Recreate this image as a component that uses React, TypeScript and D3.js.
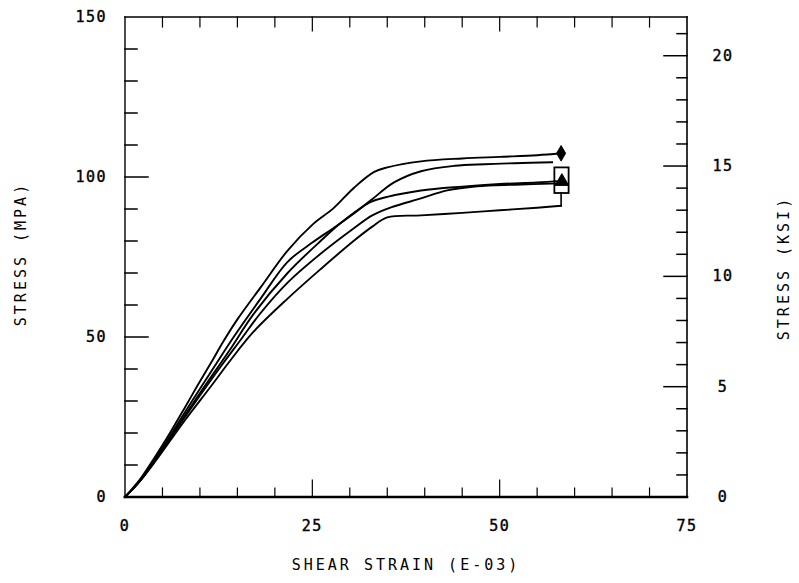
import React from 'react';
import * as d3 from 'd3';

// ---- data (strain in 1e-3, stress in MPa) ----
const curveAStrain = [0, 2, 4, 6, 8, 9.6, 11.5, 13.1, 15, 18.1, 21.7, 25.2, 27.8, 30.5, 33.2, 35, 39.5, 45, 50, 55, 58.2];
const curveAStress = [0, 5.5, 12.5, 20, 28, 34.5, 42, 48.5, 55.5, 65.5, 77, 85.5, 90.2, 96.5, 101.5, 103, 104.9, 105.8, 106.3, 106.8, 107.4];

const curveBStrain = [0, 2, 4, 6, 8, 10.2, 12, 14.5, 18.1, 21.7, 25, 27.8, 30.5, 32.8, 35.9, 39.5, 44, 48, 52, 57];
const curveBStress = [0, 5, 12, 19, 26.5, 34.5, 41, 50, 62, 73.5, 79.5, 84, 88.5, 92.7, 98.3, 101.8, 103.5, 104, 104.3, 104.6];

const curveCStrain = [0, 2, 4, 6, 8, 10.6, 14, 17.1, 21.7, 26.1, 29, 32.8, 35, 39.5, 45, 50, 55, 58.2];
const curveCStress = [0, 5, 11.5, 18.5, 25.5, 34.5, 46, 57, 70, 80, 86, 92.2, 93.8, 95.8, 97, 97.8, 98.3, 98.8];

const curveDStrain = [0, 2, 4, 6, 8, 11, 13, 15.4, 18.1, 21.7, 26.1, 30.5, 33, 35.5, 39.5, 43, 47, 52, 58];
const curveDStress = [0, 5, 11.5, 18, 25, 35, 41.5, 49, 57.5, 67, 76, 83.9, 88, 90.5, 93.3, 95.8, 97.1, 97.6, 98];

const curveEStrain = [0, 2, 4, 6, 8, 11.6, 14, 17.1, 21.7, 26.1, 30.5, 33, 35, 39.5, 45, 50, 55, 58.2];
const curveEStress = [0, 5, 11, 17.5, 24, 35, 42.5, 51.5, 62, 71.2, 80, 84.5, 87.4, 88, 88.8, 89.6, 90.4, 91];

// end-of-test markers
const markerShapes = ['diamond', 'triangle'];
const markerStrain = [58.2, 58.3];
const markerStress = [107.4, 98.6];
const boxStrain = [57.3, 59.2];
const boxStress = [95, 103];
const connectorStrain = 58.2;
const connectorStress = [91, 95];

// axis ticks / labels
const xTickLabels = [0, 25, 50, 75];
const yTickLabelsMPa = [0, 50, 100, 150];
const yTickLabelsKSI = [0, 5, 10, 15, 20];
const MPA_PER_KSI = 6.895;

const xTitle = 'SHEAR STRAIN (E-03)';
const yTitleLeft = 'STRESS (MPA)';
const yTitleRight = 'STRESS (KSI)';

const W = 799, H = 583;
const FONT = '"DejaVu Sans Mono", "Liberation Mono", monospace';

export default function App() {
  const x = d3.scaleLinear().domain([0, 75]).range([125, 687]);
  const y = d3.scaleLinear().domain([0, 150]).range([497, 17]);
  const yK = d3.scaleLinear().domain([0, 150 / MPA_PER_KSI]).range([497, 17]);

  const curves = [
    [curveAStrain, curveAStress],
    [curveBStrain, curveBStress],
    [curveCStrain, curveCStress],
    [curveDStrain, curveDStress],
    [curveEStrain, curveEStress],
  ].map(([s, t]) => s.map((v, i) => [v, t[i]] as [number, number]));

  const line = d3.line<[number, number]>().x(d => x(d[0])).y(d => y(d[1])).curve(d3.curveCatmullRom.alpha(0.5));

  const xTicks = d3.range(5, 75, 5);
  const yTicks = d3.range(10, 150, 10);
  const kTicks = d3.range(1, Math.floor(150 / MPA_PER_KSI) + 1, 1);

  const [x0, x1] = x.range();
  const [yb, yt] = y.range();

  return (
    <svg width={W} height={H} style={{ position: 'absolute', left: 0, top: 0, background: '#fff' }}>
      <g stroke="#000" fill="none" strokeLinecap="square">
        {/* frame */}
        <line x1={x0} y1={yt} x2={x1} y2={yt} strokeWidth={1.6} />
        <line x1={x0} y1={yt} x2={x0} y2={yb} strokeWidth={1.4} />
        <line x1={x1} y1={yt} x2={x1} y2={yb} strokeWidth={1.6} />
        <line x1={x0} y1={yb} x2={x1} y2={yb} strokeWidth={2.6} />
        {/* bottom & top ticks */}
        {xTicks.map(t => (
          <g key={'xt' + t}>
            <line x1={x(t)} x2={x(t)} y1={yb} y2={yb - (t % 25 === 0 ? 17 : 9)} strokeWidth={1.2} />
            <line x1={x(t)} x2={x(t)} y1={yt} y2={yt + (t % 25 === 0 ? 14 : 10)} strokeWidth={1.2} />
          </g>
        ))}
        {/* left ticks */}
        {yTicks.map(t => (
          <line key={'yt' + t} x1={x0} x2={x0 + (t % 50 === 0 ? 23 : 12)} y1={y(t)} y2={y(t)} strokeWidth={1.5} />
        ))}
        {/* right ticks (ksi) */}
        {kTicks.map(t => (
          <line key={'kt' + t} x1={x1} x2={x1 - (t % 5 === 0 ? 23 : 10)} y1={yK(t)} y2={yK(t)} strokeWidth={1.5} />
        ))}
        {/* curves */}
        {curves.map((c, i) => (
          <path key={'c' + i} d={line(c) || ''} strokeWidth={1.9} strokeLinejoin="round" />
        ))}
        {/* connector from lowest curve to box */}
        <line x1={x(connectorStrain)} x2={x(connectorStrain)} y1={y(connectorStress[0])} y2={y(connectorStress[1])} strokeWidth={1.6} />
        {/* end box */}
        <rect x={x(boxStrain[0])} y={y(boxStress[1])} width={x(boxStrain[1]) - x(boxStrain[0])}
          height={y(boxStress[0]) - y(boxStress[1])} strokeWidth={1.8} />
      </g>
      {/* end markers */}
      <g fill="#000" stroke="#000">
        {markerShapes.map((s, i) => (
          <path key={'m' + i}
            transform={`translate(${x(markerStrain[i])},${y(markerStress[i])})`}
            d={d3.symbol().type(s === 'diamond' ? d3.symbolDiamond : d3.symbolTriangle).size(s === 'diamond' ? 70 : 80)() || ''} />
        ))}
      </g>
      {/* tick labels */}
      <g fontFamily={FONT} fontSize={15} fill="#000" stroke="#000" strokeWidth={0.4} letterSpacing={1.5}>
        {xTickLabels.map(t => (
          <text key={'xl' + t} x={x(t)} y={531} textAnchor="middle">{t}</text>
        ))}
        {yTickLabelsMPa.map(t => (
          <text key={'yl' + t} x={107} y={y(t) + 5} textAnchor="end">{t}</text>
        ))}
        {yTickLabelsKSI.map(t => (
          <text key={'kl' + t} x={723} y={yK(t) + 5} textAnchor="middle">{t}</text>
        ))}
      </g>
      {/* titles */}
      <g fontFamily={FONT} fontSize={15} fill="#000" letterSpacing={3}>
        <text x={(x0 + x1) / 2} y={570} textAnchor="middle">{xTitle}</text>
        <text transform={`translate(26,254) rotate(-90)`} textAnchor="middle">{yTitleLeft}</text>
        <text transform={`translate(789,268) rotate(-90)`} textAnchor="middle">{yTitleRight}</text>
      </g>
    </svg>
  );
}
